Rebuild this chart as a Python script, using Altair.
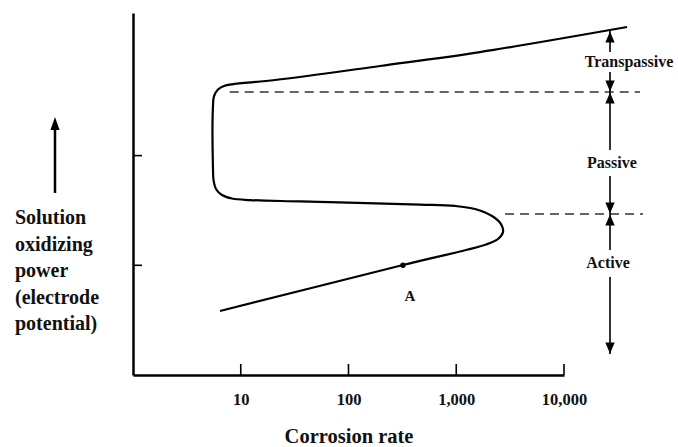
import altair as alt
import pandas as pd

# ---- data ----
# polarization curve, traced in drawing order: (corrosion rate, electrode potential)
curve_rate = [6.42, 320.6, 1888, 2440, 2716, 2602, 2147, 1493, 973, 461, 35.5, 12.2,
              8.29, 6.70, 5.89, 5.59, 5.53, 5.53, 5.65, 6.15, 6.99, 8.29, 20.8, 196,
              1660, 38450]
curve_pot = [0.583, 1.003, 1.190, 1.240, 1.304, 1.376, 1.449, 1.513, 1.541, 1.554,
             1.582, 1.595, 1.609, 1.641, 1.696, 1.778, 1.869, 2.461, 2.543, 2.603,
             2.634, 2.650, 2.689, 2.817, 2.944, 3.172]

# dashed boundary lines
dash_pot = [2.580, 1.468]
dash_start = [7.9, 2834]
dash_end = [50700, 54100]

# region arrows on the right
arrow_rate = 26730
shaft_top = [3.136, 2.762, 2.580, 1.814, 1.468, 0.893]
shaft_bottom = [2.944, 2.580, 2.051, 1.468, 1.139, 0.191]
head_up_pot = [3.136, 2.580, 1.468]
head_down_pot = [2.580, 1.468, 0.191]

region_labels = ["Transpassive", "Passive", "Active"]
region_label_rate = [40100, 27870, 25600]
region_label_pot = [2.853, 1.933, 1.021]

# point A
point_label = ["A"]
point_rate = [320]
point_pot = [1.0]

# axes
x_tick_values = [10, 100, 1000, 10000]
y_tick_values = [1, 2]
x_title = "Corrosion rate"
y_text = ["Solution", "oxidizing", "power", "(electrode", "potential)"]

FONT = "Liberation Serif"
INK = "#111111"

x_scale = alt.Scale(type="log", domain=[1, 10000])
y_scale = alt.Scale(domain=[0, 3.3])

x_axis = alt.Axis(values=x_tick_values, format=",d", ticks=False, tickSize=0, grid=False,
                  domainColor="black", domainWidth=2.5, labelFont=FONT, labelFontWeight="bold",
                  labelFontSize=16.5, labelColor=INK, labelPadding=16, labelFlush=False,
                  labelOverlap=False, titleFont=FONT, titleFontSize=20.5, titleFontWeight="bold",
                  titleColor=INK, titlePadding=19)
y_axis = alt.Axis(labels=False, ticks=False, tickSize=0, grid=False, domainColor="black",
                  domainWidth=2.5)

X = alt.X("rate:Q", scale=x_scale, axis=x_axis, title=x_title)
Y = alt.Y("pot:Q", scale=y_scale, axis=y_axis, title="")

curve_df = pd.DataFrame({"rate": curve_rate, "pot": curve_pot,
                         "order": list(range(len(curve_rate)))})
curve = alt.Chart(curve_df).mark_line(color="black", strokeWidth=2.2,
                                      interpolate="catmull-rom", clip=False).encode(
    x=X, y=Y, order="order:Q")

dash_df = pd.DataFrame({"rate": dash_start, "rate2": dash_end, "pot": dash_pot})
dashes = alt.Chart(dash_df).mark_rule(color="#333333", strokeWidth=1.5,
                                      strokeDash=[9, 6], clip=False).encode(
    x=X, x2="rate2:Q", y=Y)

shaft_df = pd.DataFrame({"rate": [arrow_rate] * len(shaft_top), "pot": shaft_top,
                         "pot2": shaft_bottom})
shafts = alt.Chart(shaft_df).mark_rule(color="black", strokeWidth=1.6, clip=False).encode(
    x=X, y=Y, y2="pot2:Q")

UP = "M-0.85,1L0,-1L0.85,1Z"
DOWN = "M-0.85,-1L0,1L0.85,-1Z"
up_df = pd.DataFrame({"rate": [arrow_rate] * 3, "pot": head_up_pot})
down_df = pd.DataFrame({"rate": [arrow_rate] * 3, "pot": head_down_pot})
heads_up = alt.Chart(up_df).mark_point(shape=UP, size=121, filled=True, color="black",
                                       opacity=1, yOffset=6, clip=False).encode(x=X, y=Y)
heads_down = alt.Chart(down_df).mark_point(shape=DOWN, size=121, filled=True, color="black",
                                           opacity=1, yOffset=-6, clip=False).encode(x=X, y=Y)

lab_df = pd.DataFrame({"rate": region_label_rate, "pot": region_label_pot,
                       "label": region_labels})
labels = alt.Chart(lab_df).mark_text(font=FONT, fontWeight="bold", fontSize=16, color=INK,
                                     align="center", baseline="middle", clip=False).encode(
    x=X, y=Y, text="label:N")

pt_df = pd.DataFrame({"rate": point_rate, "pot": point_pot, "label": point_label})
pt = alt.Chart(pt_df).mark_point(filled=True, size=30, color="black", opacity=1).encode(x=X, y=Y)
pt_label = alt.Chart(pt_df).mark_text(font=FONT, fontWeight="bold", fontSize=15, color=INK,
                                      dx=7, dy=31, baseline="middle").encode(
    x=X, y=Y, text="label:N")

xt_df = pd.DataFrame({"rate": x_tick_values})
xticks = alt.Chart(xt_df).mark_rule(color="black", strokeWidth=1.6).encode(
    x=X, y=alt.value(362), y2=alt.value(351))
yt_df = pd.DataFrame({"pot": y_tick_values})
yticks = alt.Chart(yt_df).mark_rule(color="black", strokeWidth=1.6).encode(
    y=Y, x=alt.value(0), x2=alt.value(9))

one = pd.DataFrame({"k": [0]})
left_text = alt.Chart(one).mark_text(font=FONT, fontWeight="bold", fontSize=20, color=INK,
                                     align="left", baseline="alphabetic", lineHeight=26.5,
                                     clip=False).encode(
    x=alt.value(-118), y=alt.value(211), text=alt.value(y_text))
left_shaft = alt.Chart(one).mark_rule(color="black", strokeWidth=2.5).encode(
    x=alt.value(-78), y=alt.value(114), y2=alt.value(180))
left_head = alt.Chart(one).mark_point(shape="M-0.7,1L0,-1L0.7,1Z", size=169, filled=True,
                                      color="black", opacity=1).encode(
    x=alt.value(-78), y=alt.value(110.5))

chart = alt.layer(
    curve, dashes, shafts, heads_up, heads_down, labels, pt, pt_label, xticks, yticks,
    left_text, left_shaft, left_head
).properties(
    width=431, height=362,
    autosize=alt.AutoSizeParams(type="none"),
    padding={"left": 133, "top": 13, "right": 114, "bottom": 72},
    background="white",
).configure_view(strokeOpacity=0)

chart.save("out.html", embed_options={"renderer": "svg", "actions": False})
